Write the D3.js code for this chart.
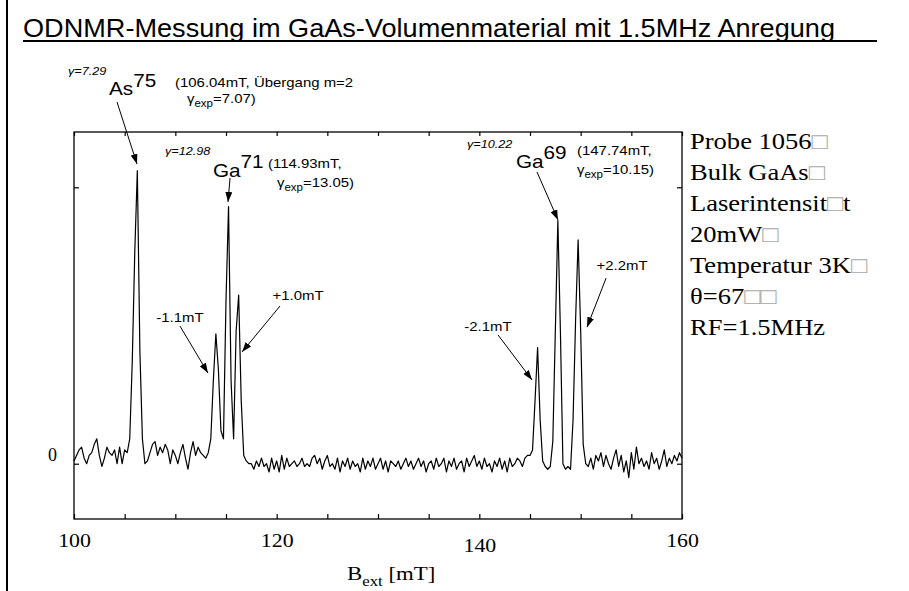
<!DOCTYPE html>
<html><head><meta charset="utf-8">
<script src="https://cdn.jsdelivr.net/npm/d3@7"></script>
<style>body{margin:0;background:#fff}svg{display:block}</style>
</head><body><svg id="c" width="909" height="591"></svg>
<script>
// ---------- data ----------
const fieldStart = 100, fieldStep = 0.25;   // mT sampling grid
const signal = [
  // 100.00 - 105.25
  0.01,0.03,0.05,0.06,0.02,0.00,0.03,0.04,0.07,0.09,0.03,-0.01,0.02,0.06,0.04,0.03,0.05,0.00,0.06,0.00,0.05,0.04,
  // 105.50 - 107.00  As75
  0.09,0.37,0.77,1.06,0.41,0.09,0.00,
  // 107.25 - 113.25
  0.01,0.04,0.07,0.08,0.03,0.06,0.04,0.07,0.05,0.00,0.05,0.03,0.00,0.04,0.07,0.02,-0.02,0.04,0.08,0.03,0.06,0.04,0.03,0.02,0.04,
  // 113.50 - 116.75  Ga71 triplet
  0.09,0.30,0.47,0.34,0.12,0.09,0.59,0.93,0.30,0.09,0.48,0.61,0.23,0.03,
  // 117.00 - 145.25
  0.01,0.00,0.00,-0.02, 0.01,-0.01,0.02,-0.01, 0.00,-0.03,0.02,-0.02, 0.01,-0.03,0.03,-0.02,
  0.02,-0.01,0.00,0.01, -0.01,0.00,0.02,-0.01, 0.00,-0.01,0.02,0.03, 0.00,0.02,-0.02,0.01,
  0.03,-0.01,0.00,-0.02, 0.02,-0.03,0.01,-0.01, 0.02,-0.02,0.01,-0.01, 0.00,-0.03,0.02,-0.02,
  0.01,-0.01,0.02,-0.02, 0.00,0.02,-0.02,0.01, -0.03,0.01,0.00,-0.01, 0.01,-0.02,0.00,0.02,
  -0.01,0.01,-0.02,0.00, 0.02,-0.01,0.01,-0.03, 0.00,0.01,-0.02,0.02, -0.01,0.00,0.02,-0.03,
  0.01,-0.01,0.02,-0.02, 0.00,0.01,-0.03,0.02, -0.01,0.01,0.03,-0.01, 0.01,-0.02,0.02,-0.01,
  0.00,-0.03,0.01,-0.01, 0.02,-0.02,0.01,-0.03, 0.02,-0.01,0.00,0.02, 0.01,-0.01,0.02,0.03,
  0.03,0.05,
  // 145.50 - 150.50  Ga69 triplet
  0.23,0.42,0.16,0.01,-0.01,-0.02,-0.01,0.08,0.48,0.88,0.48,0.00,-0.02,-0.01,-0.02,0.16,0.52,0.81,0.48,0.07,0.00,
  // 150.75 - 160.00
  -0.01,0.02,-0.02,0.03,0.01,0.04,-0.01,0.03,0.00,-0.02,0.02,0.05,-0.01,0.03,-0.03,0.01,-0.05,0.04,-0.02,0.06,
  0.00,0.02,-0.01,0.01,-0.02,0.04,0.00,0.02,-0.02,0.01,0.05,-0.01,0.02,0.00,0.03,0.01,0.04,0.02
];
const xTickLabels = [100, 120, 140, 160];
const xTickMinor = [100,105,110,115,120,125,130,135,140,145,150,155,160];
const yTickValues = [0, 1];
const yTickText = ["0", ""];
const titleText = "ODNMR-Messung im GaAs-Volumenmaterial mit 1.5MHz Anregung";
const xAxisTitle = ["B", "ext", " [mT]"];
const infoLines = ["Probe 1056□", "Bulk GaAs□", "Laserintensit□t", "20mW□", "Temperatur 3K□", "θ=67□□", "RF=1.5MHz"];
// peak annotations: tip at (field, signal)
const peakNames = ["As75", "Ga71", "Ga69"];
const peakTips = [[106.22, 1.084], [115.20, 0.947], [147.76, 0.882]];
const shiftLabels = ["-1.1mT", "+1.0mT", "-2.1mT", "+2.2mT"];
const shiftTips = [[113.22, 0.328], [116.58, 0.404], [145.20, 0.303], [150.63, 0.494]];

// ---------- layout ----------
const svg = d3.select("#c");
const L = 74, R = 682, T = 132, B = 519;
const x = d3.scaleLinear().domain([100, 160]).range([L, R]);
const y = d3.scaleLinear().domain([-0.2, 1.2]).range([B, T]);
const SANS = "'Liberation Sans', Arial, sans-serif";
const SERIF = "'Liberation Serif', 'Times New Roman', serif";

function addText(x0, y0, parts, o) {
  const t = svg.append("text")
    .attr("transform", `translate(${x0},${y0}) scale(${o.sx || 1},1)`)
    .attr("font-family", o.font).attr("font-size", o.size)
    .attr("text-anchor", o.anchor || "start")
    .attr("font-style", o.italic ? "italic" : null);
  parts.forEach(p => {
    t.append("tspan").attr("y", p.dy || 0)
      .attr("font-size", p.size || null)
      .attr("fill", p.fill || "#000").text(p.t);
  });
  return t;
}

// outer frame line + title
svg.append("line").attr("x1", 7).attr("x2", 7).attr("y1", 0).attr("y2", 591)
  .attr("stroke", "#000").attr("stroke-width", 2);
svg.append("text").attr("x", 23).attr("y", 37)
  .attr("font-family", SANS).attr("font-size", 25)
  .attr("textLength", 812).attr("lengthAdjust", "spacingAndGlyphs")
  .text(titleText);
svg.append("line").attr("x1", 23).attr("x2", 877).attr("y1", 41).attr("y2", 41)
  .attr("stroke", "#000").attr("stroke-width", 1.8);

// plot frame
svg.append("rect").attr("x", L).attr("y", T).attr("width", R - L).attr("height", B - T)
  .attr("fill", "none").attr("stroke", "#000").attr("stroke-width", 1.3);

// axes
svg.append("g").attr("transform", `translate(0,${B})`)
  .call(d3.axisBottom(x).tickValues(xTickMinor).tickFormat("").tickSizeInner(-5).tickSizeOuter(0))
  .call(g => g.select(".domain").remove());
svg.append("g").attr("transform", `translate(0,${T})`)
  .call(d3.axisTop(x).tickValues(xTickMinor).tickFormat("").tickSizeInner(-4).tickSizeOuter(0))
  .call(g => g.select(".domain").remove());
const xl = svg.append("g").attr("transform", `translate(0,${B})`)
  .call(d3.axisBottom(x).tickValues(xTickLabels).tickFormat(d3.format("d")).tickSize(0).tickPadding(15))
  .call(g => g.select(".domain").remove());
xl.selectAll("text").attr("font-family", SERIF).attr("font-size", 19).attr("fill", "#000")
  .attr("transform", d => d === 140 ? "translate(0,5) scale(1.15,1)" : "scale(1.15,1)");
const yl = svg.append("g").attr("transform", `translate(${L},0)`)
  .call(d3.axisLeft(y).tickValues(yTickValues).tickFormat((d, i) => yTickText[i]).tickSizeInner(-5).tickSizeOuter(0).tickPadding(17))
  .call(g => g.select(".domain").remove());
yl.selectAll("text").attr("font-family", SERIF).attr("font-size", 18).attr("fill", "#000").attr("dy", "-0.2em");
svg.append("g").attr("transform", `translate(${R},0)`)
  .call(d3.axisRight(y).tickValues(yTickValues).tickFormat("").tickSizeInner(-5).tickSizeOuter(0))
  .call(g => g.select(".domain").remove());
svg.selectAll(".tick line").attr("stroke", "#000").attr("stroke-width", 1.2);

addText(347, 580, [{t: xAxisTitle[0]}, {t: xAxisTitle[1], size: 14, dy: 6}, {t: xAxisTitle[2], dy: 0}],
  {font: SERIF, size: 19, sx: 1.2});

// spectrum
const line = d3.line().x((d, i) => x(fieldStart + i * fieldStep)).y(d => y(d));
svg.append("path").datum(signal).attr("d", line)
  .attr("fill", "none").attr("stroke", "#000").attr("stroke-width", 1.2).attr("stroke-linejoin", "round");

// arrows
svg.append("defs").append("marker").attr("id", "ah")
  .attr("viewBox", "0 0 10 7").attr("refX", 10).attr("refY", 3.5)
  .attr("markerWidth", 10).attr("markerHeight", 7).attr("markerUnits", "userSpaceOnUse")
  .attr("orient", "auto")
  .append("path").attr("d", "M0,0 L10,3.5 L0,7 Z").attr("fill", "#000");
function arrow(tip, dx, dy) {
  const tx = x(tip[0]), ty = y(tip[1]);
  svg.append("line").attr("x1", tx + dx).attr("y1", ty + dy).attr("x2", tx).attr("y2", ty)
    .attr("stroke", "#000").attr("stroke-width", 1).attr("marker-end", "url(#ah)");
}
arrow(peakTips[0], -20, -62);
arrow(peakTips[1], 2, -24);
arrow(peakTips[2], -21, -48);
arrow(shiftTips[0], -28, -47);
arrow(shiftTips[1], 38, -46);
arrow(shiftTips[2], -34, -45);
arrow(shiftTips[3], 19, -49);

// peak labels
const SX = 1.15;
addText(68, 75, [{t: "γ=7.29"}], {font: SANS, size: 11, italic: true, sx: SX});
addText(109, 95, [{t: "As"}, {t: "75", dy: -8}], {font: SANS, size: 18, sx: SX});
addText(175, 87, [{t: "(106.04mT, Übergang m=2"}], {font: SANS, size: 13, sx: SX});
addText(187, 103, [{t: "γ"}, {t: "exp", size: 10, dy: 4}, {t: "=7.07)", dy: 0}], {font: SANS, size: 13, sx: SX});

addText(165, 155, [{t: "γ=12.98"}], {font: SANS, size: 11, italic: true, sx: SX});
addText(213, 177, [{t: "Ga"}, {t: "71", dy: -9}], {font: SANS, size: 18, sx: SX});
addText(268, 168, [{t: "(114.93mT,"}], {font: SANS, size: 13, sx: SX});
addText(277, 187, [{t: "γ"}, {t: "exp", size: 10, dy: 4}, {t: "=13.05)", dy: 0}], {font: SANS, size: 13, sx: SX});

addText(467, 148, [{t: "γ=10.22"}], {font: SANS, size: 11, italic: true, sx: SX});
addText(516, 168, [{t: "Ga"}, {t: "69", dy: -9}], {font: SANS, size: 18, sx: SX});
addText(577, 155, [{t: "(147.74mT,"}], {font: SANS, size: 13, sx: SX});
addText(577, 174, [{t: "γ"}, {t: "exp", size: 10, dy: 4}, {t: "=10.15)", dy: 0}], {font: SANS, size: 13, sx: SX});

// shift labels
const shiftPos = [[180, 322], [298, 300], [488, 331], [622, 270]];
shiftLabels.forEach((s, i) => addText(shiftPos[i][0], shiftPos[i][1], [{t: s}], {font: SANS, size: 13, sx: SX, anchor: "middle"}));

// info block
infoLines.forEach((ln, i) => {
  const parts = ln.split(/(□)/).filter(s => s.length).map(s => s === "□" ? {t: s, fill: "#a8a8a8"} : {t: s});
  addText(690, 149 + i * 31, parts, {font: SERIF, size: 22.5, sx: 1.18});
});
</script></body></html>
